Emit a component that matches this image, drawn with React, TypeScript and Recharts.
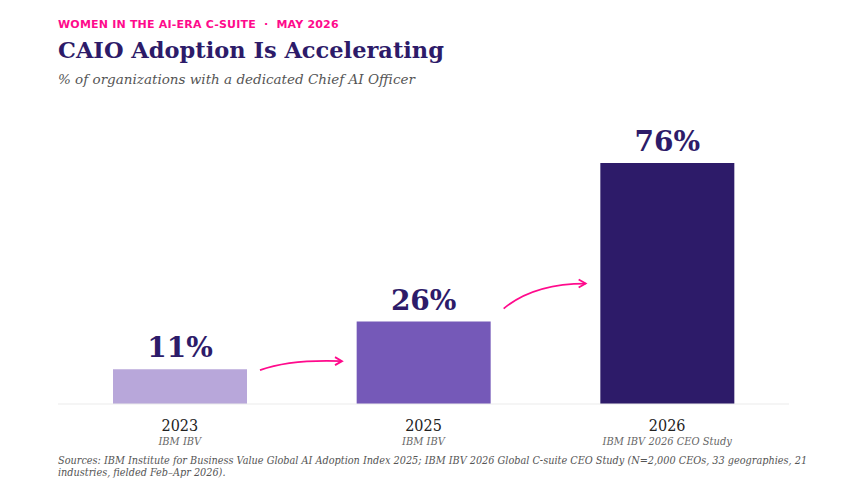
import React from "react";
import { BarChart, Bar, XAxis, YAxis, Cell, LabelList } from "recharts";

const years = ["2023", "2025", "2026"];
const sources = ["IBM IBV", "IBM IBV", "IBM IBV 2026 CEO Study"];
const values = [11, 26, 76];
const colors = ["#b8a7da", "#7559b8", "#2d1b69"];

const data = years.map((y, i) => ({ year: y, source: sources[i], value: values[i] }));
const PINK = "#ff0a8c";
const NAVY = "#2d1b69";

const Tick = (props: any) => {
  const { x, y, payload, index } = props;
  return (
    <g>
      <text x={x} y={y + 19} textAnchor="middle" fontFamily="DejaVu Serif Condensed, DejaVu Serif" fontSize={16} fill="#222">{payload.value}</text>
      <text x={x} y={y + 33} textAnchor="middle" fontFamily="DejaVu Serif Condensed, DejaVu Serif" fontStyle="italic" fontSize={11} fill="#666">{sources[index]}</text>
    </g>
  );
};

const ValueLabel = (props: any) => {
  const { x, y, width, value, index } = props;
  const arrow = index < values.length - 1;
  const sx = x + width + 13;
  const sy = index === 0 ? y + 1 : y - 13;
  const ex = x + width + 95;
  const ey = index === 0 ? y - 8 : y - 38;
  const cx = sx + 30;
  const cy = ey - (index === 0 ? 2 : 0);
  return (
    <g>
      <text x={x + width / 2} y={y - 12} textAnchor="middle" fontFamily="DejaVu Serif" fontWeight="bold" fontSize={28} fill={NAVY}>{value}%</text>
      {arrow && (
        <g>
          <path d={`M${sx},${sy} Q${cx},${cy} ${ex},${ey}`} fill="none" stroke={PINK} strokeWidth={1.8} />
          <path d={`M${ex - 7},${ey - 4} L${ex},${ey} L${ex - 7},${ey + 4}`} fill="none" stroke={PINK} strokeWidth={1.8} />
        </g>
      )}
    </g>
  );
};

export default function App() {
  return (
    <div style={{ position: "absolute", left: 0, top: 0, width: 843, height: 493, background: "#fff" }}>
      <div style={{ position: "absolute", left: 58, top: 18, fontFamily: "DejaVu Sans", fontWeight: "bold", fontSize: 11, color: PINK, letterSpacing: 0.2, whiteSpace: "pre" }}>
        WOMEN IN THE AI-ERA C-SUITE  ·  MAY 2026
      </div>
      <div style={{ position: "absolute", left: 58, top: 37, fontFamily: "DejaVu Serif", fontWeight: "bold", fontSize: 22.5, color: NAVY }}>
        CAIO Adoption Is Accelerating
      </div>
      <div style={{ position: "absolute", left: 58, top: 71, fontFamily: "DejaVu Serif", fontStyle: "italic", fontSize: 13.5, color: "#555" }}>
        % of organizations with a dedicated Chief AI Officer
      </div>
      <div style={{ position: "absolute", left: 0, top: 0 }}>
        <BarChart width={843} height={493} data={data} margin={{ top: 87, left: 58, right: 54, bottom: 59 }}>
          <YAxis hide domain={[0, 100]} />
          <XAxis dataKey="year" height={30} axisLine={{ stroke: "#ebebeb" }} tickLine={false} tick={<Tick />} interval={0} />
          <Bar dataKey="value" barSize={134} isAnimationActive={false}>
            {data.map((d, i) => <Cell key={d.year} fill={colors[i]} />)}
            <LabelList dataKey="value" content={<ValueLabel />} />
          </Bar>
        </BarChart>
      </div>
      <div style={{ position: "absolute", left: 58, top: 455, width: 765, fontFamily: "DejaVu Serif Condensed, DejaVu Serif", fontStyle: "italic", fontSize: 10.8, color: "#555", lineHeight: "12px" }}>
        Sources: IBM Institute for Business Value Global AI Adoption Index 2025; IBM IBV 2026 Global C-suite CEO Study (N=2,000 CEOs, 33 geographies, 21 industries, fielded Feb–Apr 2026).
      </div>
    </div>
  );
}
